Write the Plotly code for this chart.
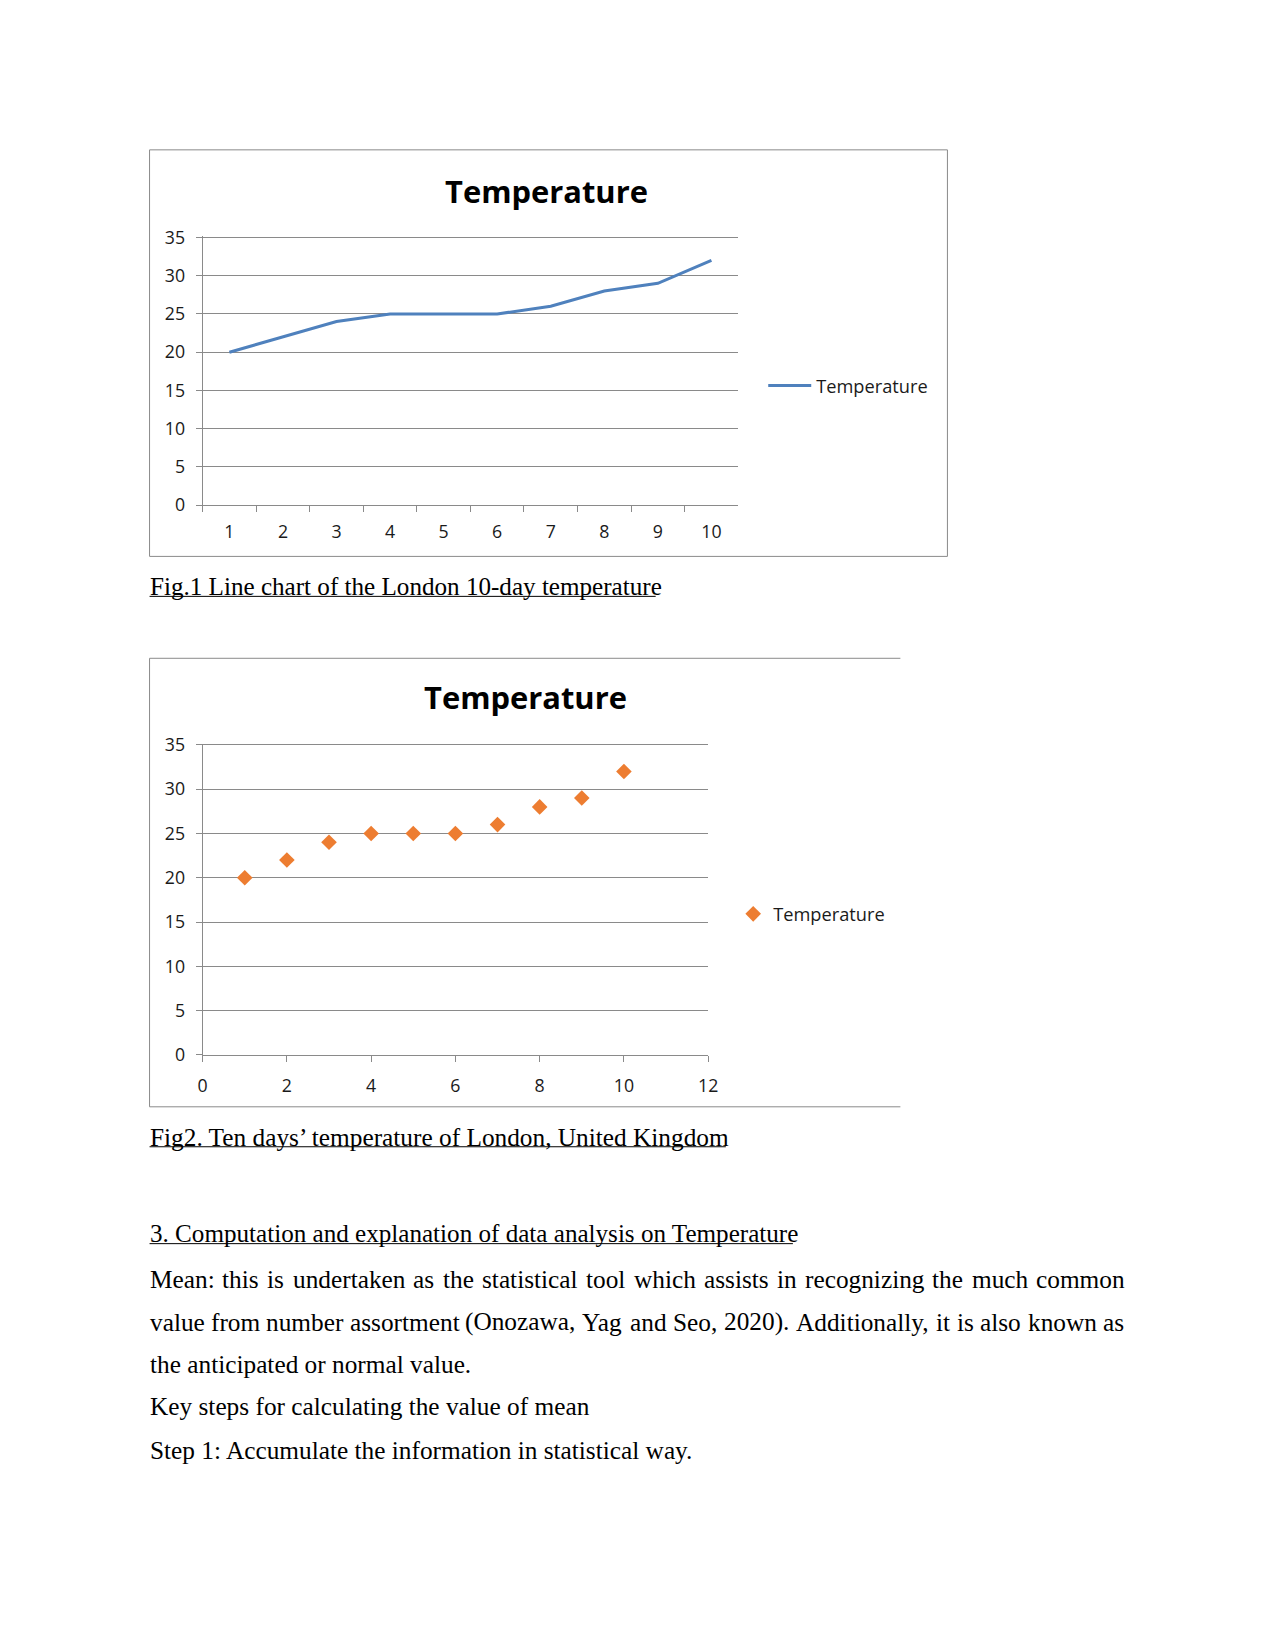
import plotly.graph_objects as go

# ---------------- data ----------------
DAY_LABELS = ["1", "2", "3", "4", "5", "6", "7", "8", "9", "10"]
DAYS = [1, 2, 3, 4, 5, 6, 7, 8, 9, 10]
TEMPERATURE = [20, 22, 24, 25, 25, 25, 26, 28, 29, 32]
SERIES_NAME = "Temperature"
CHART_TITLE = "Temperature"
Y_TICKS = [0, 5, 10, 15, 20, 25, 30, 35]
X2_TICKS = [0, 2, 4, 6, 8, 10, 12]

CAPTION_1 = "Fig.1 Line chart of the London 10-day temperature"
CAPTION_2 = "Fig2. Ten days\u2019 temperature of London, United Kingdom"
HEADING = "3. Computation and explanation of data analysis on Temperature"
JUSTIFIED_LINES = [
    "Mean: this is undertaken as the statistical tool which assists in recognizing the much common",
    "value from number assortment (Onozawa, Yag and Seo, 2020). Additionally, it is also known as",
]
PLAIN_LINES = [
    "the anticipated or normal value.",
    "Key steps for calculating the value of mean",
    "Step 1: Accumulate the information in statistical way.",
]

# ---------------- page geometry ----------------
# figure is 16px smaller than the 1275x1650 page (html body margin);
# page target positions are mapped onto figure pixels (measured render mapping)
W, H = 1259, 1634
A = 0.987          # observed scale of the rendered page
BX, BY = 5.6, 12.0  # observed offset of the rendered page
def fxp(x):
    return (x - BX) / A
def fyp(y):
    return (y - BY) / A
def px(x):
    return fxp(x) / W
def py(y):
    return 1 - fyp(y) / H
def fs(s):
    return s / A

GRAY = "#8a8a8a"
TICK_FONT = dict(family="Open Sans", size=fs(17.5), color="#1a1a1a")
LEGEND_FONT = dict(family="Open Sans", size=fs(18), color="#1a1a1a")
TEXT_FONT = "Liberation Serif"

# Times/Liberation Serif advance widths (1/1000 em) for layout of justified text
TIMES = {' ': 250, 'a': 444, 'b': 500, 'c': 444, 'd': 500, 'e': 444, 'f': 333, 'g': 500, 'h': 500,
         'i': 278, 'j': 278, 'k': 500, 'l': 278, 'm': 778, 'n': 500, 'o': 500, 'p': 500, 'q': 500,
         'r': 333, 's': 389, 't': 278, 'u': 500, 'v': 500, 'w': 722, 'x': 500, 'y': 500, 'z': 444,
         'A': 722, 'B': 667, 'C': 667, 'D': 722, 'E': 611, 'F': 556, 'G': 722, 'H': 722, 'I': 333,
         'J': 389, 'K': 722, 'L': 611, 'M': 889, 'N': 722, 'O': 722, 'P': 556, 'Q': 722, 'R': 667,
         'S': 556, 'T': 611, 'U': 722, 'V': 722, 'W': 944, 'X': 722, 'Y': 722, 'Z': 611,
         '.': 250, ',': 250, ':': 278, ';': 278, '(': 333, ')': 333, '-': 333, '\u2019': 333}
def tw(s, size):
    return sum(TIMES.get(c, 500) for c in s) * size / 1000.0

# plot-area pixel boxes (page coords): value 0 / 35 rows
Y_MAX = 35.15   # slightly above 35 so the top gridline is drawn
def ydomain(y0_px, y35_px):
    top = y35_px - (Y_MAX - 35) * (y0_px - y35_px) / 35
    return [py(y0_px), py(top)]

fig = go.Figure()

fig.add_trace(go.Scatter(
    x=DAY_LABELS, y=TEMPERATURE, mode="lines", name=SERIES_NAME,
    line=dict(color="#4F81BD", width=3),
    xaxis="x", yaxis="y", legend="legend",
))
fig.add_trace(go.Scatter(
    x=DAYS, y=TEMPERATURE, mode="markers", name=SERIES_NAME,
    marker=dict(symbol="diamond", size=12, color="#ED7D31"),
    xaxis="x2", yaxis="y2", legend="legend2",
))

axis_common = dict(showline=True, linecolor=GRAY, linewidth=1, ticks="outside",
                   ticklen=6, tickcolor=GRAY, tickwidth=1, tickfont=TICK_FONT,
                   zeroline=False, fixedrange=True)

fig.update_layout(
    width=W, height=H,
    margin=dict(l=0, r=0, t=0, b=0),
    paper_bgcolor="white", plot_bgcolor="white",
    xaxis=dict(domain=[px(203), px(738)], anchor="y", type="category",
               range=[-0.5, len(DAY_LABELS) - 0.5],
               tickson="boundaries", showgrid=False, ticklabelstandoff=11,
               **axis_common),
    yaxis=dict(domain=ydomain(505.7, 237.7), anchor="x", range=[0, Y_MAX],
               tickvals=Y_TICKS, showgrid=True, gridcolor=GRAY, gridwidth=1,
               ticklabelstandoff=7, **axis_common),
    xaxis2=dict(domain=[px(203), px(708)], anchor="y2", range=[0, 12],
                tickvals=X2_TICKS, showgrid=False, ticklabelstandoff=9,
                **axis_common),
    yaxis2=dict(domain=ydomain(1056, 745.7), anchor="x2", range=[0, Y_MAX],
                tickvals=Y_TICKS, showgrid=True, gridcolor=GRAY, gridwidth=1,
                ticklabelstandoff=7, **axis_common),
    legend=dict(x=px(763), y=py(386), xanchor="left", yanchor="middle",
                font=LEGEND_FONT, bgcolor="rgba(0,0,0,0)", itemwidth=43, borderwidth=0),
    legend2=dict(x=px(733), y=py(915), xanchor="left", yanchor="middle",
                 font=LEGEND_FONT, bgcolor="rgba(0,0,0,0)", itemwidth=30, borderwidth=0),
    showlegend=True,
)

# chart frames
shapes = [
    dict(type="rect", xref="paper", yref="paper", x0=px(150), x1=px(947), y0=py(557), y1=py(150),
         line=dict(color=GRAY, width=1)),
    dict(type="line", xref="paper", yref="paper", x0=px(150), x1=px(900), y0=py(659), y1=py(659),
         line=dict(color=GRAY, width=1)),
    dict(type="line", xref="paper", yref="paper", x0=px(150), x1=px(900), y0=py(1108), y1=py(1108),
         line=dict(color=GRAY, width=1)),
    dict(type="line", xref="paper", yref="paper", x0=px(150), x1=px(150), y0=py(659), y1=py(1108),
         line=dict(color=GRAY, width=1)),
]

annotations = []
def add_text(text, x, y, size, family=TEXT_FONT, color="black", xanchor="left", bold=False):
    annotations.append(dict(
        text=("<b>%s</b>" % text) if bold else text, x=px(x), y=py(y), xref="paper", yref="paper",
        xanchor=xanchor, yanchor="middle", showarrow=False, borderpad=0, borderwidth=0,
        font=dict(family=family, size=fs(size), color=color)))

# chart titles
add_text(CHART_TITLE, 547, 191, 30.5, family="Open Sans", xanchor="center", bold=True)
add_text(CHART_TITLE, 526, 698, 30.5, family="Open Sans", xanchor="center", bold=True)

# captions + heading with underline
LEFT = 150
for txt, yc, size in [(CAPTION_1, 587, 24.8), (CAPTION_2, 1138, 25), (HEADING, 1235, 24.8)]:
    add_text(txt, LEFT, yc, size)
    wdt = tw(txt, size)
    shapes.append(dict(type="line", xref="paper", yref="paper", x0=px(LEFT), x1=px(LEFT + wdt),
                       y0=py(yc + 10), y1=py(yc + 10), line=dict(color="black", width=1)))

# justified paragraph lines
RIGHT = 1123
BODY = 25
for line, yc in zip(JUSTIFIED_LINES, [1280, 1323]):
    words = line.split(" ")
    widths = [tw(wd, BODY) for wd in words]
    gap = (RIGHT - LEFT - sum(widths)) / (len(words) - 1)
    x = LEFT
    for wd, wdt in zip(words, widths):
        add_text(wd, x, yc, BODY)
        x += wdt + gap

for line, yc in zip(PLAIN_LINES, [1365, 1408, 1452]):
    add_text(line, LEFT, yc, BODY)

fig.update_layout(shapes=shapes, annotations=annotations)

fig.write_html("out.html")
